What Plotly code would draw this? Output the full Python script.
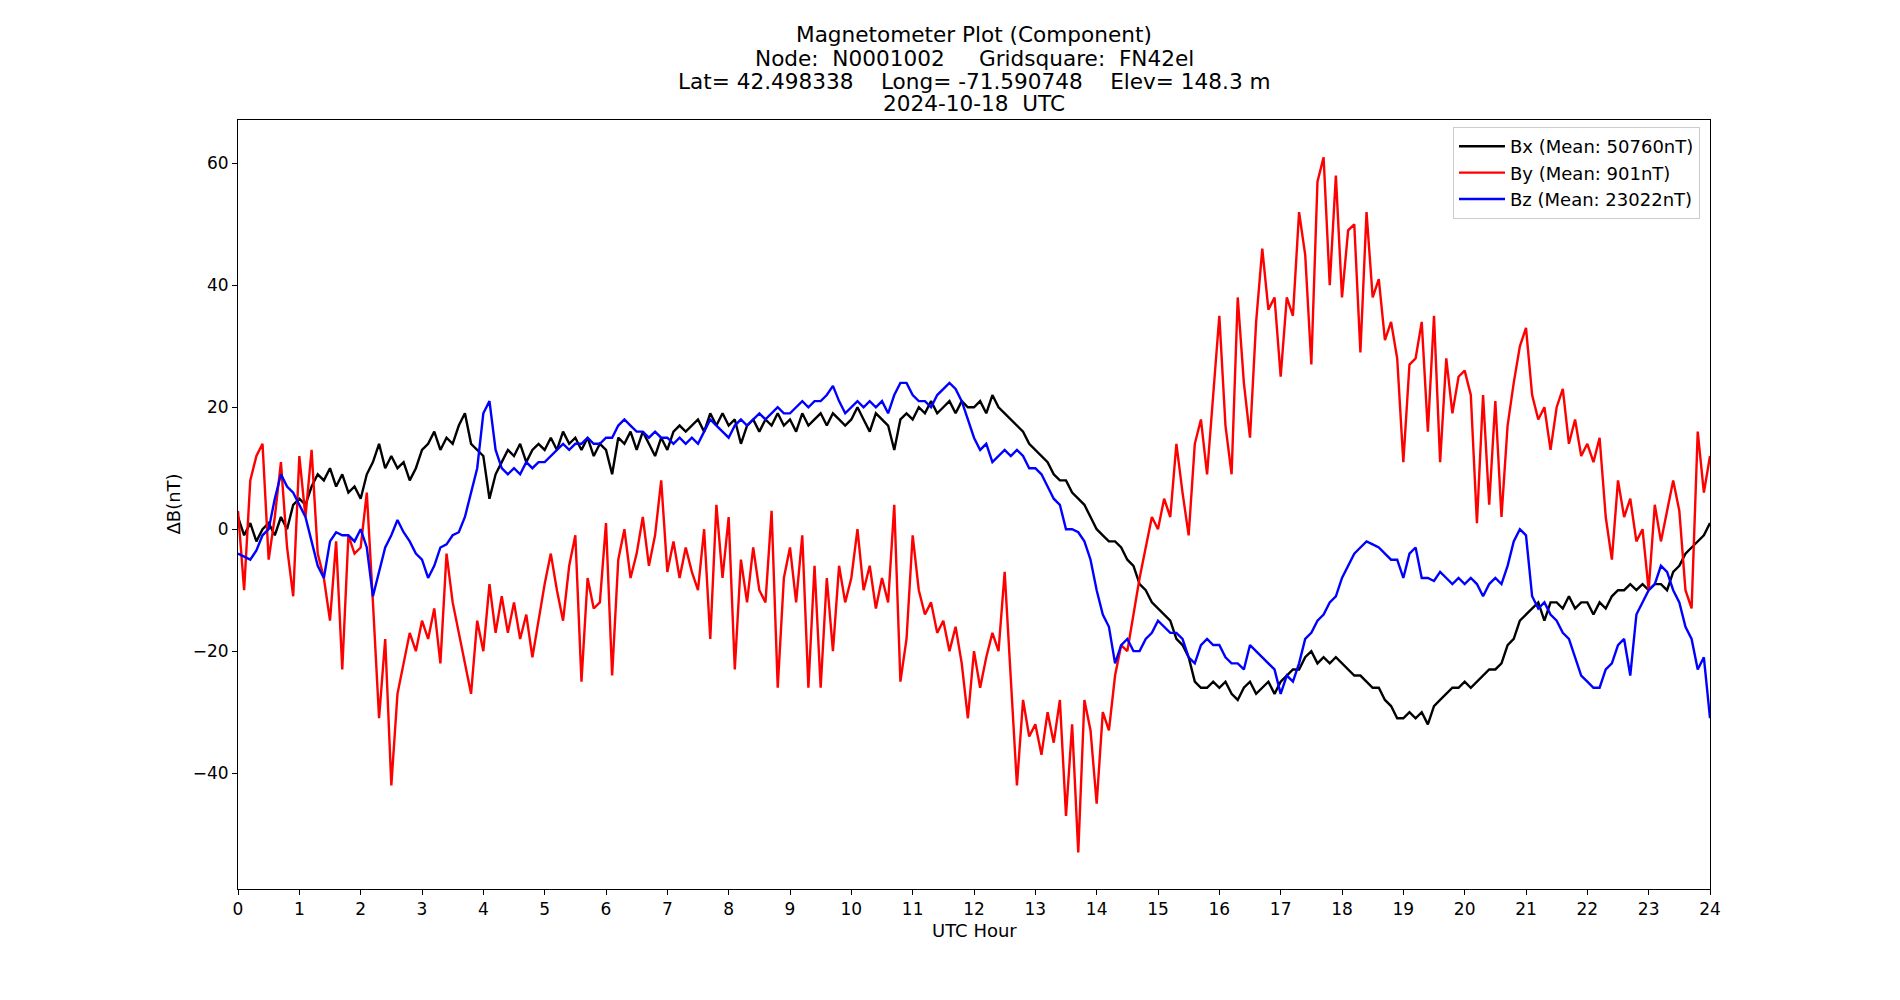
import plotly.graph_objects as go

# Hour grid: one reading every 0.1 h (6 minutes), 0 .. 24
hours = [round(i * 0.1, 1) for i in range(241)]

# Delta-B values in nT, one row per hour
bx = [
    2, -1, 1, -2, 0, 1, -1, 2, 0, 4,
    5, 4, 7, 9, 8, 10, 7, 9, 6, 7,
    5, 9, 11, 14, 10, 12, 10, 11, 8, 10,
    13, 14, 16, 13, 15, 14, 17, 19, 14, 13,
    12, 5, 9, 11, 13, 12, 14, 11, 13, 14,
    13, 15, 13, 16, 14, 15, 13, 15, 12, 14,
    13, 9, 15, 14, 16, 13, 16, 14, 12, 15,
    13, 16, 17, 16, 17, 18, 16, 19, 17, 19,
    17, 18, 14, 17, 18, 16, 18, 17, 19, 17,
    18, 16, 19, 17, 18, 19, 17, 19, 18, 17,
    18, 20, 18, 16, 19, 18, 17, 13, 18, 19,
    18, 20, 19, 21, 19, 20, 21, 19, 21, 20,
    20, 21, 19, 22, 20, 19, 18, 17, 16, 14,
    13, 12, 11, 9, 8, 8, 6, 5, 4, 2,
    0, -1, -2, -2, -3, -5, -6, -9, -10, -12,
    -13, -14, -15, -18, -19, -21, -25, -26, -26, -25,
    -26, -25, -27, -28, -26, -25, -27, -26, -25, -27,
    -25, -24, -23, -23, -21, -20, -22, -21, -22, -21,
    -22, -23, -24, -24, -25, -26, -26, -28, -29, -31,
    -31, -30, -31, -30, -32, -29, -28, -27, -26, -26,
    -25, -26, -25, -24, -23, -23, -22, -19, -18, -15,
    -14, -13, -12, -15, -12, -12, -13, -11, -13, -12,
    -12, -14, -12, -13, -11, -10, -10, -9, -10, -9,
    -10, -9, -9, -10, -7, -6, -4, -3, -2, -1,
    1,
]

by = [
    3, -10, 8, 12, 14, -5, 2, 11, -3, -11,
    12, 2, 13, -4, -8, -15, -2, -23, -1, -4,
    -3, 6, -12, -31, -18, -42, -27, -22, -17, -20,
    -15, -18, -13, -22, -4, -12, -17, -22, -27, -15,
    -20, -9, -17, -11, -17, -12, -18, -14, -21, -15,
    -9, -4, -10, -15, -6, -1, -25, -8, -13, -12,
    1, -24, -5, 0, -8, -4, 2, -6, -1, 8,
    -7, -2, -8, -3, -7, -10, 0, -18, 4, -8,
    2, -23, -5, -12, -3, -10, -12, 3, -26, -8,
    -3, -12, -1, -26, -6, -26, -8, -20, -6, -12,
    -8, 0, -10, -6, -13, -8, -12, 4, -25, -18,
    -1, -10, -14, -12, -17, -15, -20, -16, -22, -31,
    -20, -26, -21, -17, -20, -7, -24, -42, -28, -34,
    -32, -37, -30, -35, -28, -47, -32, -53, -28, -33,
    -45, -30, -33, -24, -19, -20, -14, -8, -3, 2,
    0, 5, 2, 14, 6, -1, 14, 18, 9, 22,
    35, 17, 9, 38, 24, 15, 34, 46, 36, 38,
    25, 38, 35, 52, 45, 27, 57, 61, 40, 58,
    38, 49, 50, 29, 52, 38, 41, 31, 34, 28,
    11, 27, 28, 34, 16, 35, 11, 28, 19, 25,
    26, 22, 1, 22, 4, 21, 2, 17, 24, 30,
    33, 22, 18, 20, 13, 20, 23, 14, 18, 12,
    14, 11, 15, 2, -5, 8, 2, 5, -2, 0,
    -10, 4, -2, 3, 8, 3, -10, -13, 16, 6,
    12,
]

bz = [
    -4, -4.5, -5, -3.5, -1, 0, 5, 9, 7, 6,
    4, 2, -2, -6, -8, -2, -0.5, -1, -1, -2,
    0, -3, -11, -7, -3, -1, 1.5, -0.5, -2, -4,
    -5, -8, -6, -3, -2.5, -1, -0.5, 2, 6, 10,
    19, 21, 13, 10, 9, 10, 9, 11, 10, 11,
    11, 12, 13, 14, 13, 14, 14, 15, 14, 14,
    15, 15, 17, 18, 17, 16, 16, 15, 16, 15,
    15, 14, 15, 14, 15, 14, 16, 18, 17, 16,
    15, 17, 18, 17, 18, 19, 18, 19, 20, 19,
    19, 20, 21, 20, 21, 21, 22, 23.5, 21, 19,
    20, 21, 20, 21, 20, 21, 19, 22, 24, 24,
    22, 21, 21, 20, 22, 23, 24, 23, 21, 18,
    15, 13, 14, 11, 12, 13, 12, 13, 12, 10,
    10, 9, 7, 5, 4, 0, 0, -0.5, -2, -5,
    -10, -14, -16, -22, -19, -18, -20, -20, -18, -17,
    -15, -16, -17, -17, -18, -21, -22, -19, -18, -19,
    -19, -21, -22, -22, -23, -19, -20, -21, -22, -23,
    -27, -24, -25, -22, -18, -17, -15, -14, -12, -11,
    -8, -6, -4, -3, -2, -2.5, -3, -4, -5, -5,
    -8, -4, -3, -8, -8, -8.5, -7, -8, -9, -8,
    -9, -8, -9, -11, -9, -8, -9, -6, -2, 0,
    -1, -11, -13, -12, -14, -15, -17, -18, -21, -24,
    -25, -26, -26, -23, -22, -19, -18, -24, -14, -12,
    -10, -9, -6, -7, -10, -12, -16, -18, -23, -21,
    -31,
]

series_names = ["Bx (Mean: 50760nT)", "By (Mean: 901nT)", "Bz (Mean: 23022nT)"]
series_colors = ["#000000", "#ff0000", "#0000ff"]

title_lines = [
    "Magnetometer Plot (Component)",
    "Node:  N0001002     Gridsquare:  FN42el",
    "Lat= 42.498338    Long= -71.590748    Elev= 148.3 m",
    "2024-10-18  UTC",
]

x_ticks = list(range(0, 25))
y_ticks = [-40, -20, 0, 20, 40, 60]

FONT = "DejaVu Sans"

fig = go.Figure()
for vals, name, col in zip([bx, by, bz], series_names, series_colors):
    fig.add_trace(go.Scatter(x=hours, y=vals, mode="lines", name=name,
                             line=dict(color=col, width=2.4)))

L, R, T, B = 238, 190, 120, 111
W, H = 1900, 1000
pw, ph = W - L - R, H - T - B

annotations = []
title_y_px = [35, 58, 81, 104]
for txt, ypx in zip(title_lines, title_y_px):
    annotations.append(dict(text=txt, xref="paper", yref="paper", x=0.5,
                            y=1 + (T - ypx) / ph, xanchor="center", yanchor="middle",
                            showarrow=False, font=dict(family=FONT, size=21.6, color="black")))
annotations.append(dict(text="UTC Hour", xref="paper", yref="paper", x=0.5,
                        y=-(930 - (H - B)) / ph, xanchor="center", yanchor="middle",
                        showarrow=False, font=dict(family=FONT, size=18, color="black")))
annotations.append(dict(text="ΔB(nT)", xref="paper", yref="paper", x=(173 - L) / pw,
                        y=0.5, xanchor="center", yanchor="middle", textangle=-90,
                        showarrow=False, font=dict(family=FONT, size=18, color="black")))

fig.update_layout(
    width=W, height=H, autosize=False,
    margin=dict(l=L, r=R, t=T, b=B),
    paper_bgcolor="white", plot_bgcolor="white",
    font=dict(family=FONT, size=17, color="black"),
    showlegend=True,
    legend=dict(x=1 - 10 / pw, y=1 - 7 / ph, xanchor="right", yanchor="top",
                bgcolor="rgba(255,255,255,0.8)", bordercolor="#cccccc", borderwidth=1,
                itemwidth=46,
                font=dict(family=FONT, size=18, color="black"), tracegroupgap=0),
    annotations=annotations,
)
fig.update_xaxes(range=[0, 24], tickvals=x_ticks, ticktext=[str(t) for t in x_ticks],
                 showgrid=False, zeroline=False, showline=True, linecolor="black",
                 linewidth=1, mirror=True, ticks="outside", ticklen=5, tickcolor="black",
                 tickfont=dict(family=FONT, size=17, color="black"))
fig.update_yaxes(range=[-59.0, 67.1], tickvals=y_ticks,
                 showgrid=False, zeroline=False, showline=True, linecolor="black",
                 linewidth=1, mirror=True, ticks="outside", ticklen=5, tickcolor="black",
                 tickfont=dict(family=FONT, size=17, color="black"))

fig.write_html("out.html")
